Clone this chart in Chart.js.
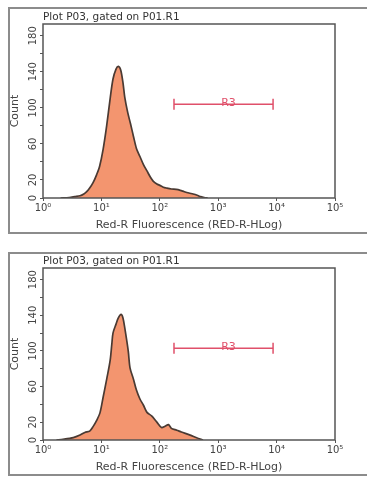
<!DOCTYPE html>
<html>
<head>
<meta charset="utf-8">
<script src="https://cdn.jsdelivr.net/npm/chart.js@4.4.1/dist/chart.umd.min.js"></script>
<style>
  html, body { margin: 0; padding: 0; background: #fff; width: 367px; height: 479px; overflow: hidden; }
  .frame { position: absolute; left: 8px; width: 400px; border: 2px solid #8c8c8c; box-sizing: border-box; }
  .holder { position: absolute; left: 0; width: 367px; }
</style>
</head>
<body>
<div class="frame" style="top:7px;height:227px"></div>
<div class="frame" style="top:252px;height:224px"></div>
<div class="holder" style="top:0;height:240px"><canvas id="c1"></canvas></div>
<div class="holder" style="top:244px;height:238px"><canvas id="c2"></canvas></div>
<script>
// axis ticks
const xTicks = [1, 10, 100, 1000, 10000, 100000];
const xTickLabels = ['10⁰', '10¹', '10²', '10³', '10⁴', '10⁵'];
const yTicks = [0, 20, 40, 60, 80, 100, 120, 140, 160, 180];
const yTickLabels = ['0', '20', '', '60', '', '100', '', '140', '', '180'];

// top histogram (fluorescence, count)
const p1Fluor = [2.0, 2.8, 3.5, 4.3, 5.0, 5.6, 6.3, 7.2, 8.3, 9.3, 10.7, 12.3, 14.1, 15.8, 17.8, 19.5, 21.4, 23.4,
  25.1, 28.2, 31.6, 35.5, 39.8, 45.7, 52.5, 60.3, 69.2, 77.6, 89.1, 100, 115, 132, 158, 191, 224, 263, 316, 372, 437, 501, 575, 661];
const p1Count = [0, 0.5, 1.5, 2.5, 4.5, 7, 11, 17, 26, 35, 54, 80, 110, 132, 143, 146, 142, 128,
  112, 95, 82, 68, 55, 46, 37, 30, 23, 18.5, 15.5, 14, 12, 11, 10, 9.5, 8.5, 7, 5.5, 4.4, 3, 1.5, 0.5, 0];

// bottom histogram (fluorescence, count)
const p2Fluor = [1.7, 2.2, 3.3, 4.3, 5.2, 6.3, 7.2, 8.3, 9.5, 10.7, 12.3, 14.1, 15.1, 15.8, 17.8, 19.5, 21.7, 23.4,
  25.1, 28.8, 30.9, 35.5, 39.8, 45.7, 52.5, 60.3, 72.4, 89.1, 107, 123, 141, 158, 195, 234, 331, 427, 550];
const p2Count = [0, 0.7, 2.6, 5.5, 8.5, 10, 15, 22, 31, 48, 68, 89, 108, 120, 130, 137, 141, 137,
  126, 100, 81, 68, 56, 46, 39, 31, 27, 20, 14, 15.5, 17.3, 13, 11, 9, 5.5, 2.6, 0];

// gate R3
const gateRange = [175, 8700];
const gateCount1 = 104;
const gateCount2 = 103;
const gateName = 'R3';
const gateLabelX = 1500;

const FONT = 'DejaVu Sans';
const fillColor = '#f3956f';
const edgeColor = '#4a3a33';
const gateColor = '#e0506a';

const boxPlugin = {
  id: 'box',
  afterDraw(chart) {
    const { ctx, chartArea: a } = chart;
    ctx.save();
    ctx.strokeStyle = '#555';
    ctx.lineWidth = 1.5;
    ctx.strokeRect(a.left, a.top, a.right - a.left, a.bottom - a.top);
    ctx.restore();
  }
};

const gateLabelPlugin = {
  id: 'gateLabel',
  afterDatasetsDraw(chart) {
    const { ctx, scales } = chart;
    const gy = chart.data.datasets[1].data[0].y;
    ctx.save();
    ctx.fillStyle = gateColor;
    ctx.font = '11px ' + FONT;
    ctx.textAlign = 'center';
    ctx.textBaseline = 'middle';
    ctx.fillText(gateName, scales.x.getPixelForValue(gateLabelX), scales.y.getPixelForValue(gy) - 1);
    ctx.restore();
  }
};

function makeChart(id, fluor, count, gateCount) {
  new Chart(document.getElementById(id), {
    type: 'line',
    data: {
      datasets: [
        {
          data: fluor.map((f, i) => ({ x: f, y: count[i] })),
          borderColor: edgeColor,
          backgroundColor: fillColor,
          borderWidth: 1.7,
          fill: 'origin',
          pointRadius: 0,
          tension: 0.3
        },
        {
          data: gateRange.map(g => ({ x: g, y: gateCount })),
          borderColor: gateColor,
          borderWidth: 1.5,
          fill: false,
          pointStyle: 'line',
          pointRotation: 90,
          pointRadius: 5.5,
          pointBorderColor: gateColor,
          pointBorderWidth: 1.5
        }
      ]
    },
    options: {
      responsive: true,
      maintainAspectRatio: false,
      animation: false,
      events: [],
      layout: { padding: { left: 8, right: 32, top: 11.4, bottom: 8 } },
      plugins: {
        legend: { display: false },
        tooltip: { enabled: false },
        title: {
          display: true,
          text: 'Plot P03, gated on P01.R1',
          align: 'start',
          fullSize: false,
          padding: 0,
          color: '#333',
          font: { family: FONT, size: 10.5, weight: 'normal' }
        }
      },
      scales: {
        x: {
          type: 'logarithmic',
          min: 1,
          max: 100000,
          afterBuildTicks: s => { s.ticks = xTicks.map(v => ({ value: v })); },
          afterFit: s => { s.height = 34; },
          ticks: {
            callback: v => xTickLabels[xTicks.indexOf(v)] ?? '',
            autoSkip: false, minRotation: 0, maxRotation: 0, padding: 1,
            color: '#444', font: { family: FONT, size: 10 }
          },
          grid: { drawOnChartArea: false, tickLength: 3, color: '#555' },
          border: { display: false },
          title: {
            display: true, text: 'Red-R Fluorescence (RED-R-HLog)',
            color: '#444', font: { family: FONT, size: 11 }, padding: { top: 0, bottom: 0 }
          }
        },
        y: {
          min: 0,
          max: 193,
          afterBuildTicks: s => { s.ticks = yTicks.map(v => ({ value: v })); },
          afterFit: s => { s.width = 35; },
          ticks: {
            callback: v => yTickLabels[yTicks.indexOf(v)] ?? '',
            autoSkip: false, minRotation: 90, maxRotation: 90, crossAlign: 'center', padding: -3,
            color: '#444', font: { family: FONT, size: 10 }
          },
          grid: { drawOnChartArea: false, tickLength: 3, color: '#555' },
          border: { display: false },
          title: {
            display: true, text: 'Count',
            color: '#444', font: { family: FONT, size: 11 }, padding: { top: 1, bottom: 0 }
          }
        }
      }
    },
    plugins: [boxPlugin, gateLabelPlugin]
  });
}

makeChart('c1', p1Fluor, p1Count, gateCount1);
makeChart('c2', p2Fluor, p2Count, gateCount2);
</script>
</body>
</html>
